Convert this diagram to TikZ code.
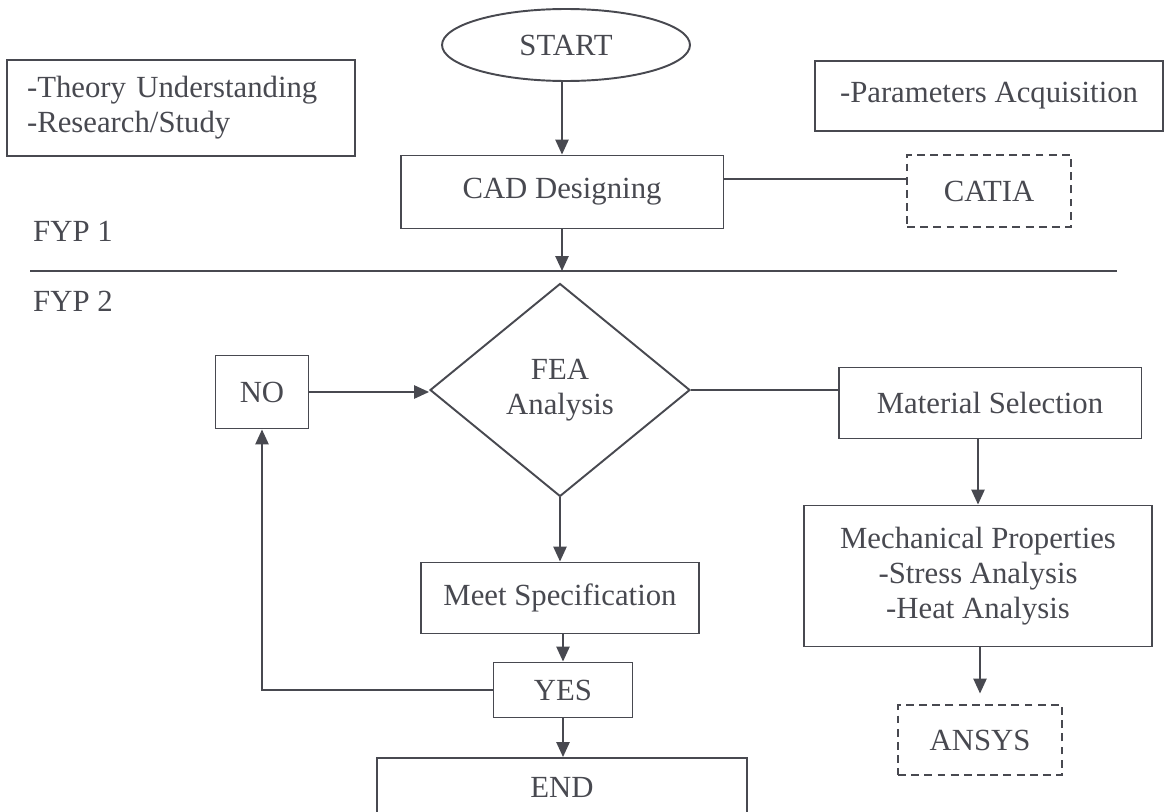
\documentclass[tikz,border=0pt]{standalone}
\usepackage{fontspec}
\setmainfont{Liberation Serif}
\usetikzlibrary{arrows.meta,shapes.geometric}
\definecolor{ink}{RGB}{72,73,80}

\begin{document}
\begin{tikzpicture}[
    x=0.02cm, y=-0.02cm,                    % <- one unit = one px of the layout, y runs down
    every node/.style={text=ink, font=\fontsize{17.5}{20}\selectfont},
    blk/.style={rectangle, draw=ink, line width=1.1pt, inner sep=0pt, align=center},
    soft/.style={blk, dash pattern=on 4.5pt off 3pt},
    oval/.style={ellipse, draw=ink, line width=1.1pt, inner sep=0pt},
    decide/.style={diamond, draw=ink, line width=1.1pt, inner sep=0pt, align=center},
    flow/.style={draw=ink, line width=1.1pt, -{Triangle[length=8.5pt,width=7.5pt]}},
    tie/.style={draw=ink, line width=1.1pt},
  ]

  % ---------- page frame ----------
  \useasboundingbox (0,0) rectangle (1168,811);
  \clip (0,0) rectangle (1168,811);

  % ---------- FYP 1 / FYP 2 split ----------
  \coordinate (sepL) at (30,271);
  \coordinate (sepR) at (1117,271);
  \draw[tie] (sepL) -- (sepR);
  \node[anchor=west] (fyp1) at (27,231) {FYP 1};
  \node[anchor=west] (fyp2) at (27,301) {FYP 2};

  % ---------- top stage ----------
  \node[oval, minimum width=4.96cm, minimum height=1.44cm] (start) at (566,45) {START};
  \node[blk, minimum width=6.96cm, minimum height=1.92cm, align=left, text width=6.16cm]
    (theory) at (181,108) {-Theory Understanding\\-Research/Study};
  \node[blk, minimum width=6.96cm, minimum height=1.4cm] (params) at (989,96) {-Parameters Acquisition};
  \node[blk, minimum width=6.46cm, minimum height=1.46cm] (cad) at (562,192) {CAD Designing};
  \node[soft, minimum width=3.28cm, minimum height=1.44cm] (catia) at (989,191) {CATIA};

  % ---------- lower stage ----------
  \node[decide, minimum width=5.2cm, minimum height=4.26cm] (fea) at (560,390) {FEA\\Analysis};
  \node[blk, minimum width=1.86cm, minimum height=1.46cm] (no) at (262,392) {NO};
  \node[blk, minimum width=6.06cm, minimum height=1.42cm] (material) at (990,403) {Material Selection};
  \node[blk, minimum width=6.96cm, minimum height=2.82cm] (mech) at (978,576)
    {Mechanical Properties\\-Stress Analysis\\-Heat Analysis};
  \node[soft, minimum width=3.28cm, minimum height=1.4cm] (ansys) at (980,740) {ANSYS};
  \node[blk, minimum width=5.56cm, minimum height=1.42cm] (meet) at (560,598) {Meet Specification};
  \node[blk, minimum width=2.78cm, minimum height=1.1cm] (yes) at (563,690) {YES};
  \node[blk, minimum width=7.4cm, minimum height=1.16cm] (finish) at (562,787) {END};

  % ---------- connectors ----------
  \draw[flow] (cad.north |- start.south) -- (cad.north);
  \draw[flow] (cad.south) -- (cad.south |- sepL);
  \draw[tie] ([yshift=7.5pt]cad.east) -- ([yshift=7.5pt]cad.east -| catia.west);
  \draw[flow] (no.east) -- (no.east -| fea.west);
  \draw[tie] (fea.east) -- (fea.east -| material.west);
  \draw[flow] (mech.north |- material.south) -- (mech.north);
  \draw[flow, shorten >=6pt] (ansys.north |- mech.south) -- (ansys.north);
  \draw[flow] (fea.south) -- (meet.north);
  \draw[flow] (yes.north |- meet.south) -- (yes.north);
  \draw[flow] (yes.south) -- (yes.south |- finish.north);
  \draw[flow] (yes.west) -| (no.south);                                   % back to NO

\end{tikzpicture}
\end{document}
